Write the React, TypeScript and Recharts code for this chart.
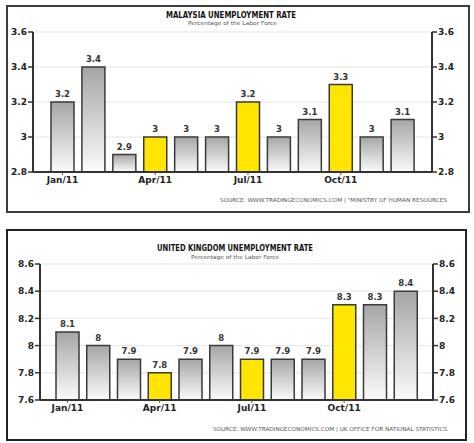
import { BarChart, Bar, Line, XAxis, YAxis, CartesianGrid, Cell, LabelList } from "recharts"

const months = ["Jan/11", "Feb/11", "Mar/11", "Apr/11", "May/11", "Jun/11", "Jul/11", "Aug/11", "Sep/11", "Oct/11", "Nov/11", "Dec/11"]
const quarterMonths = ["Jan/11", "Apr/11", "Jul/11", "Oct/11"]
const highlighted = ["Apr/11", "Jul/11", "Oct/11"]

const malaysiaRate = [3.2, 3.4, 2.9, 3, 3, 3, 3.2, 3, 3.1, 3.3, 3, 3.1]
const malaysiaTicks = [2.8, 3, 3.2, 3.4, 3.6]

const ukRate = [8.1, 8, 7.9, 7.8, 7.9, 8, 7.9, 7.9, 7.9, 8.3, 8.3, 8.4]
const ukTicks = [7.6, 7.8, 8, 8.2, 8.4, 8.6]

const FONT = "'DejaVu Sans', Verdana, sans-serif"
const YELLOW = "#ffe600"

interface PanelProps {
  id: string
  values: number[]
  ticks: number[]
  top: number
  height: number
  plot: { left: number; right: number; top: number; bottom: number }
  pad: number
}

// vertical grid only at the quarter months, taken from the x axis scale
function quarterLines({ xAxis }: any) {
  const scale = xAxis?.scale
  if (typeof scale !== "function") return []
  const half = typeof scale.bandwidth === "function" ? scale.bandwidth() / 2 : 0
  return quarterMonths.map((m) => scale(m) + half).filter((x) => Number.isFinite(x))
}

function RatePanel({ id, values, ticks, top, height, plot, pad }: PanelProps) {
  const data = months.map((month, i) => ({ month, rate: values[i] }))
  const xAxisHeight = 16
  const tickStyle = { fontSize: 9, fontWeight: 700, fill: "#222", fontFamily: FONT }
  const domain = [ticks[0], ticks[ticks.length - 1]]

  return (
    <div style={{ position: "absolute", left: 0, top, width: 474, height }}>
      <BarChart
        width={474}
        height={height}
        data={data}
        margin={{ top: plot.top, right: 0, left: 0, bottom: height - plot.bottom - xAxisHeight }}
        barSize={23}
      >
        <defs>
          <linearGradient id={`gray-${id}`} x1="0" y1="0" x2="0" y2="1">
            <stop offset="0%" stopColor="#a6a6a6" />
            <stop offset="100%" stopColor="#fbfbfb" />
          </linearGradient>
        </defs>
        <CartesianGrid stroke="#e4e4e4" strokeWidth={1} verticalCoordinatesGenerator={quarterLines} />
        <XAxis
          dataKey="month"
          height={xAxisHeight}
          interval={2}
          padding={{ left: pad, right: pad }}
          tick={tickStyle}
          tickSize={3}
          axisLine={{ stroke: "#333", strokeWidth: 2 }}
          tickLine={{ stroke: "#555" }}
        />
        <YAxis
          width={plot.left}
          domain={domain}
          ticks={ticks}
          tick={tickStyle}
          tickSize={5}
          tickMargin={1}
          axisLine={{ stroke: "#333", strokeWidth: 2 }}
          tickLine={{ stroke: "#333", strokeWidth: 1.5 }}
        />
        <YAxis
          yAxisId="right"
          orientation="right"
          width={474 - plot.right}
          domain={domain}
          ticks={ticks}
          tick={{ ...tickStyle, textAnchor: "start" }}
          tickSize={5}
          tickMargin={1}
          axisLine={{ stroke: "#333", strokeWidth: 2 }}
          tickLine={{ stroke: "#333", strokeWidth: 1.5 }}
        />
        <Bar dataKey="rate" stroke="#3a3a3a" strokeWidth={1.5} isAnimationActive={false}>
          {data.map((d) => (
            <Cell key={d.month} fill={highlighted.includes(d.month) ? YELLOW : `url(#gray-${id})`} />
          ))}
          <LabelList
            dataKey="rate"
            position="top"
            offset={5}
            style={{ fontSize: 8.5, fontWeight: 600, fill: "#333", fontFamily: FONT }}
          />
        </Bar>
        <Line
          yAxisId="right"
          dataKey="rate"
          stroke="none"
          dot={false}
          activeDot={false}
          legendType="none"
          isAnimationActive={false}
        />
      </BarChart>
    </div>
  )
}

export default function App() {
  const box = { position: "absolute" as const, background: "transparent", boxSizing: "border-box" as const }
  const title = { fontSize: 8, fontWeight: 700, fill: "#111", fontFamily: FONT }
  const sub = { fontSize: 5.5, fill: "#555", fontFamily: FONT }
  const src = { fontSize: 5.5, fill: "#555", fontFamily: FONT }

  return (
    <div style={{ position: "absolute", left: 0, top: 0, width: 474, height: 443, background: "#fff", overflow: "hidden" }}>
      <RatePanel
        id="my"
        values={malaysiaRate}
        ticks={malaysiaTicks}
        top={0}
        height={220}
        plot={{ left: 33, right: 432, top: 32, bottom: 172 }}
        pad={14}
      />
      <RatePanel
        id="uk"
        values={ukRate}
        ticks={ukTicks}
        top={220}
        height={223}
        plot={{ left: 40, right: 433, top: 44, bottom: 180 }}
        pad={12}
      />
      <div style={{ ...box, left: 6, top: 5, width: 464, height: 208, border: "2px solid #3c3c3c" }} />
      <div style={{ ...box, left: 6, top: 229, width: 461, height: 212, border: "2.5px solid #222" }} />
      <svg width={474} height={443} style={{ position: "absolute", left: 0, top: 0, pointerEvents: "none" }}>
        <text x={166} y={18} textLength={130} lengthAdjust="spacingAndGlyphs" style={title}>
          MALAYSIA UNEMPLOYMENT RATE
        </text>
        <text x={188} y={25} textLength={89} lengthAdjust="spacingAndGlyphs" style={sub}>
          Percentage of the Labor Force
        </text>
        <text x={220} y={201.5} textLength={227} lengthAdjust="spacingAndGlyphs" style={src}>
          SOURCE: WWW.TRADINGECONOMICS.COM | "MINISTRY OF HUMAN RESOURCES
        </text>
        <text x={157} y={251} textLength={156} lengthAdjust="spacingAndGlyphs" style={title}>
          UNITED KINGDOM UNEMPLOYMENT RATE
        </text>
        <text x={191} y={259} textLength={88} lengthAdjust="spacingAndGlyphs" style={sub}>
          Percentage of the Labor Force
        </text>
        <text x={213} y={431} textLength={234} lengthAdjust="spacingAndGlyphs" style={src}>
          SOURCE: WWW.TRADINGECONOMICS.COM | UK OFFICE FOR NATIONAL STATISTICS
        </text>
      </svg>
    </div>
  )
}
